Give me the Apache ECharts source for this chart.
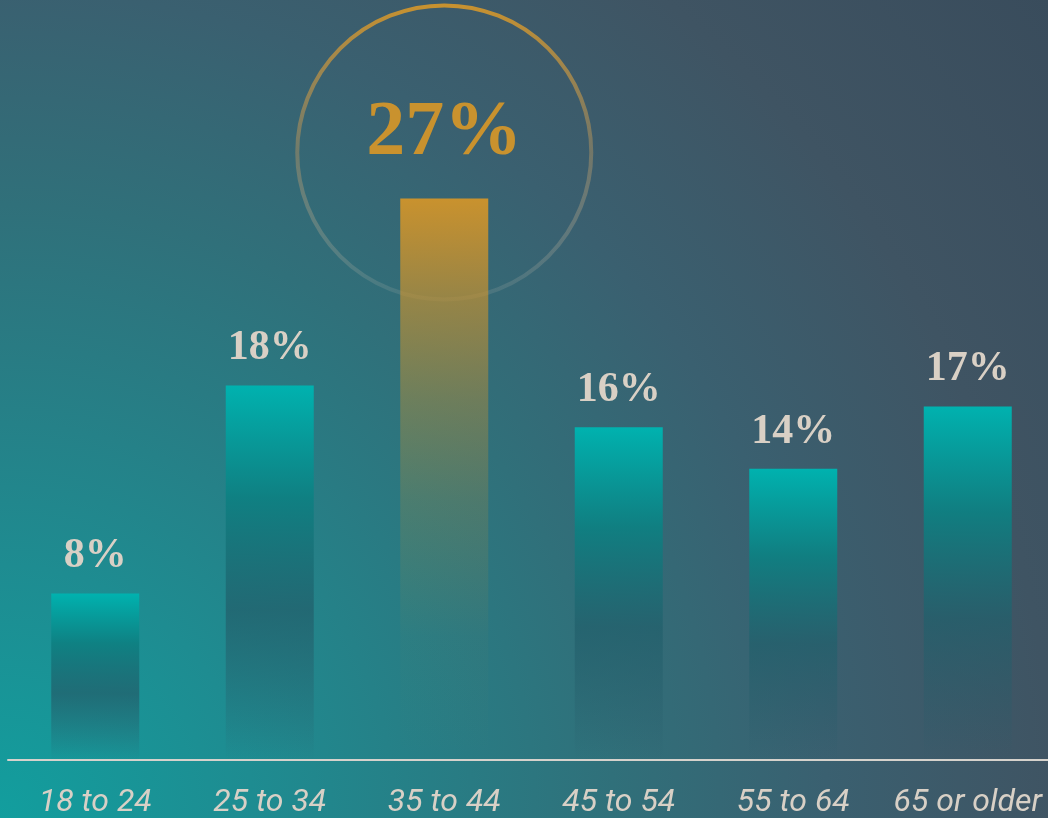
<!DOCTYPE html>
<html>
<head>
<meta charset="utf-8">
<script src="https://cdn.jsdelivr.net/npm/echarts@6/dist/echarts.min.js"></script>
<style>
  html, body { margin: 0; padding: 0; width: 100%; height: 100%; overflow: hidden; }
  #chart { width: 1048px; height: 818px; }
</style>
</head>
<body>
<div id="chart"></div>
<script>
// Share of respondents by age group (%)
const ageGroups = ['18 to 24', '25 to 34', '35 to 44', '45 to 54', '55 to 64', '65 or older'];
const shares = [8, 18, 27, 16, 14, 17];
const highlightIndex = 2;

// Bars fade from a bright top into the backdrop
const teal = new echarts.graphic.LinearGradient(0, 0, 0, 1, [
  { offset: 0, color: 'rgba(0,178,175,1)' },
  { offset: 0.3, color: 'rgba(14,128,130,0.95)' },
  { offset: 0.6, color: 'rgba(34,96,108,0.75)' },
  { offset: 1, color: 'rgba(40,90,104,0.0)' }
]);
const gold = new echarts.graphic.LinearGradient(0, 0, 0, 1, [
  { offset: 0, color: 'rgba(201,146,46,1)' },
  { offset: 0.18, color: 'rgba(201,146,46,0.66)' },
  { offset: 0.36, color: 'rgba(201,146,46,0.40)' },
  { offset: 0.54, color: 'rgba(201,146,46,0.20)' },
  { offset: 0.78, color: 'rgba(201,146,46,0.03)' },
  { offset: 1, color: 'rgba(201,146,46,0.0)' }
]);

// Backdrop glows teal from the lower-left corner towards slate
const backdrop = new echarts.graphic.RadialGradient(0, 1, 1.63, [
  { offset: 0, color: 'rgb(18,158,158)' },
  { offset: 0.19, color: 'rgb(30,140,145)' },
  { offset: 0.46, color: 'rgb(48,112,122)' },
  { offset: 0.62, color: 'rgb(58,96,112)' },
  { offset: 0.79, color: 'rgb(63,84,99)' },
  { offset: 1, color: 'rgb(57,76,92)' }
]);

const chart = echarts.init(document.getElementById('chart'), null, { renderer: 'canvas' });

const option = {
  animation: false,
  backgroundColor: backdrop,
  grid: {
    left: 8, width: 1047, top: 136, bottom: 58,
    containLabel: false,
    outerBoundsMode: 'none'
  },
  xAxis: {
    type: 'category',
    data: ageGroups,
    axisLine: { show: true, lineStyle: { color: '#d6d2cc', width: 2 } },
    axisTick: { show: false },
    axisLabel: {
      interval: 0,
      hideOverlap: false,
      color: '#d8d0c6',
      fontFamily: 'Roboto',
      fontStyle: 'italic',
      fontSize: 32,
      margin: 27
    }
  },
  yAxis: {
    type: 'value',
    min: 0,
    max: 30,
    show: false,
    splitLine: { show: false }
  },
  series: [{
    type: 'bar',
    barWidth: 88,
    data: shares.map((v, i) => ({
      value: v,
      itemStyle: { color: i === highlightIndex ? gold : teal },
      label: i === highlightIndex
        ? { fontSize: 78, color: '#c9922e', distance: 26 }
        : {}
    })),
    label: {
      show: true,
      position: 'top',
      distance: 16,
      formatter: '{c}%',
      fontFamily: 'Liberation Serif',
      fontWeight: 'bold',
      fontSize: 42,
      color: '#d9d0c5'
    }
  }]
};

chart.setOption(option);

// Ring around the highlighted bar's value, placed from the bar's own coordinates
const barTop = chart.convertToPixel({ seriesIndex: 0 }, [highlightIndex, shares[highlightIndex]]);
chart.setOption({
  graphic: [{
    type: 'circle',
    z: -1,
    shape: { cx: barTop[0], cy: barTop[1] - 46, r: 147 },
    style: {
      fill: 'none',
      lineWidth: 4,
      stroke: new echarts.graphic.LinearGradient(0, 0, 0, 1, [
        { offset: 0, color: 'rgba(201,146,46,1)' },
        { offset: 0.5, color: 'rgba(160,140,100,0.55)' },
        { offset: 1, color: 'rgba(200,195,185,0.12)' }
      ])
    }
  }]
});
</script>
</body>
</html>
